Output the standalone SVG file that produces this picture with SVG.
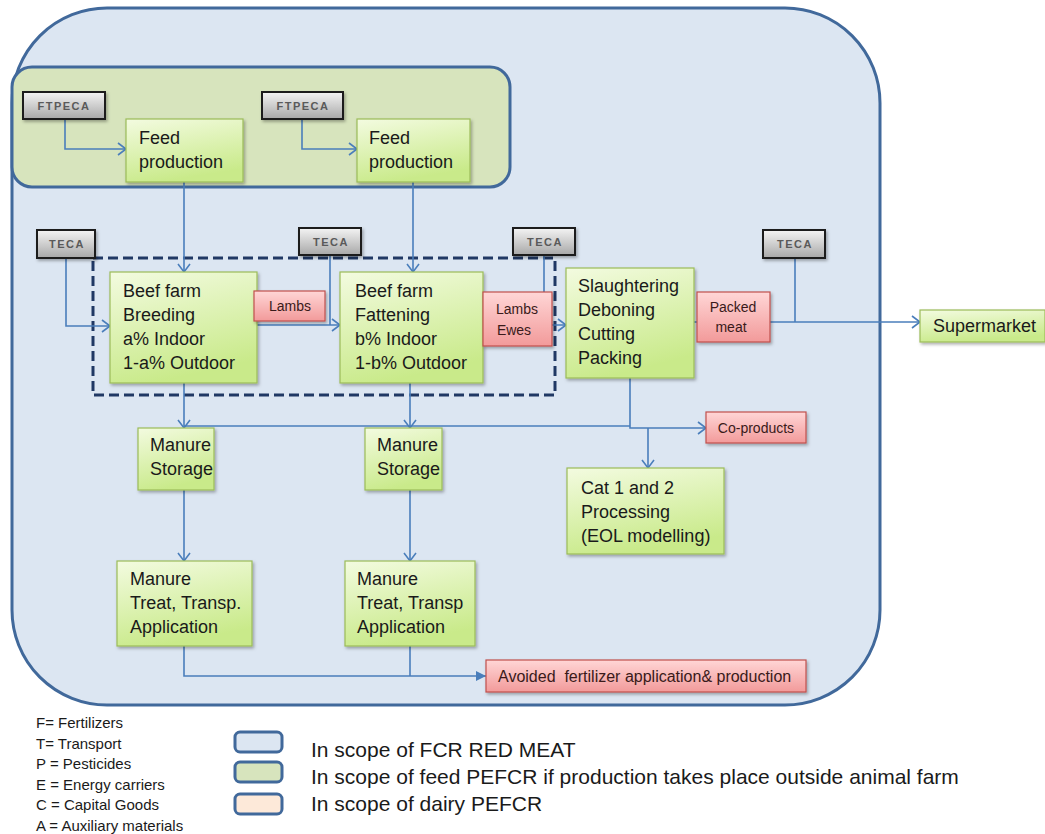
<svg xmlns="http://www.w3.org/2000/svg" width="1045" height="834" viewBox="0 0 1045 834">
  <defs>
    <linearGradient id="gGreen" x1="0" y1="0" x2="0.3" y2="1">
      <stop offset="0" stop-color="#f3fbe0"/>
      <stop offset="1" stop-color="#c9ea8a"/>
    </linearGradient>
    <linearGradient id="gRed" x1="0" y1="0" x2="0" y2="1">
      <stop offset="0" stop-color="#ffd6d6"/>
      <stop offset="1" stop-color="#f29a9a"/>
    </linearGradient>
    <linearGradient id="gGray" x1="0" y1="0" x2="0" y2="1">
      <stop offset="0" stop-color="#f4f4f4"/>
      <stop offset="1" stop-color="#a8a8a8"/>
    </linearGradient>
    <filter id="shadow" x="-10%" y="-10%" width="125%" height="130%">
      <feDropShadow dx="1.5" dy="2" stdDeviation="1.5" flood-color="#000" flood-opacity="0.3"/>
    </filter>
    <marker id="arrow" markerUnits="userSpaceOnUse" markerWidth="12" markerHeight="14" refX="9" refY="7" orient="auto">
      <path d="M1,1 L9,7 L1,13" fill="none" stroke="#4a7ebb" stroke-width="1.6"/>
    </marker>
    <marker id="arrowFill" markerUnits="userSpaceOnUse" markerWidth="12" markerHeight="12" refX="10" refY="6" orient="auto">
      <path d="M0,1 L10,6 L0,11 Z" fill="#4a7ebb"/>
    </marker>
  </defs>
  <style>
    .scope { stroke: #41699b; stroke-width: 3; }
    .proc { fill: url(#gGreen); stroke: #9bbb59; stroke-width: 1.2; filter: url(#shadow); }
    .flow { fill: url(#gRed); stroke: #c0504d; stroke-width: 1.2; filter: url(#shadow); }
    .input { fill: url(#gGray); stroke: #1a1a1a; stroke-width: 2; filter: url(#shadow); }
    .t { font-family: "Liberation Sans", Arial, sans-serif; font-size: 18px; fill: #1a1a1a; }
    .ts { font-family: "Liberation Sans", Arial, sans-serif; font-size: 14px; fill: #3a1a1a; }
    .tl { font-family: "Liberation Sans", Arial, sans-serif; font-size: 16px; fill: #3a1a1a; }
    .ti { font-family: "Liberation Sans", Arial, sans-serif; font-size: 11px; font-weight: bold; letter-spacing: 1.5px; fill: #5a5a5a; }
    .leg { font-family: "Liberation Sans", Arial, sans-serif; font-size: 15px; fill: #1a1a1a; }
    .legbig { font-family: "Liberation Sans", Arial, sans-serif; font-size: 21px; fill: #1a1a1a; }
    .line { fill: none; stroke: #4a7ebb; stroke-width: 1.6; }
  </style>

  <rect width="1045" height="834" fill="#ffffff"/>

  <!-- system boundaries -->
  <rect id="scope-redmeat" class="scope" x="12" y="8" width="868" height="697" rx="95" ry="95" fill="#dce6f2"/>
  <rect id="scope-feed" class="scope" x="12" y="67" width="498" height="120" rx="20" ry="20" fill="#d7e4bd"/>
  <rect id="farm-boundary" x="93" y="258" width="462" height="137" fill="none" stroke="#203864" stroke-width="3" stroke-dasharray="10,5"/>

  <!-- connectors -->
  <g id="connectors">
    <path class="line" d="M65,119 V149 H126" marker-end="url(#arrow)"/>
    <path class="line" d="M302,119 V149 H357" marker-end="url(#arrow)"/>
    <path class="line" d="M184,182 V272" marker-end="url(#arrow)"/>
    <path class="line" d="M413,182 V272" marker-end="url(#arrow)"/>
    <path class="line" d="M66,258 V326 H110" marker-end="url(#arrow)"/>
    <path class="line" d="M257,325 H340" marker-end="url(#arrow)"/>
    <path class="line" d="M330,255 V325"/>
    <path class="line" d="M483,325 H566" marker-end="url(#arrow)"/>
    <path class="line" d="M544,255 V325"/>
    <path class="line" d="M694,322 H920" marker-end="url(#arrow)"/>
    <path class="line" d="M795,258 V322"/>
    <path class="line" d="M184,383 V428" marker-end="url(#arrow)"/>
    <path class="line" d="M410,383 V428" marker-end="url(#arrow)"/>
    <path class="line" d="M184,426 H630"/>
    <path class="line" d="M630,378 V428 H706" marker-end="url(#arrow)"/>
    <path class="line" d="M648,428 V468" marker-end="url(#arrow)"/>
    <path class="line" d="M184,490 V561" marker-end="url(#arrow)"/>
    <path class="line" d="M410,490 V561" marker-end="url(#arrow)"/>
    <path class="line" d="M184,646 V676 H486" marker-end="url(#arrowFill)"/>
    <path class="line" d="M410,646 V676"/>
  </g>

  <!-- inputs -->
  <g id="ftpeca-1"><rect class="input" x="23" y="92" width="82" height="27"/><text class="ti" x="64" y="110" text-anchor="middle">FTPECA</text></g>
  <g id="ftpeca-2"><rect class="input" x="262" y="92" width="81" height="27"/><text class="ti" x="303" y="110" text-anchor="middle">FTPECA</text></g>
  <g id="teca-1"><rect class="input" x="37" y="230" width="58" height="28"/><text class="ti" x="67" y="248" text-anchor="middle">TECA</text></g>
  <g id="teca-2"><rect class="input" x="299" y="228" width="62" height="27"/><text class="ti" x="331" y="246" text-anchor="middle">TECA</text></g>
  <g id="teca-3"><rect class="input" x="513" y="228" width="62" height="27"/><text class="ti" x="545" y="246" text-anchor="middle">TECA</text></g>
  <g id="teca-4"><rect class="input" x="763" y="230" width="62" height="28"/><text class="ti" x="795" y="248" text-anchor="middle">TECA</text></g>

  <!-- processes -->
  <g id="feed-1"><rect class="proc" x="126" y="119" width="117" height="63"/>
    <text class="t" x="139" y="144">Feed</text><text class="t" x="139" y="168">production</text></g>
  <g id="feed-2"><rect class="proc" x="357" y="119" width="113" height="63"/>
    <text class="t" x="369" y="144">Feed</text><text class="t" x="369" y="168">production</text></g>

  <g id="beef-breeding"><rect class="proc" x="110" y="272" width="147" height="111"/>
    <text class="t" x="123" y="297">Beef farm</text><text class="t" x="123" y="321">Breeding</text>
    <text class="t" x="123" y="345">a% Indoor</text><text class="t" x="123" y="369">1-a% Outdoor</text></g>
  <g id="lambs"><rect class="flow" x="254" y="291" width="71" height="30"/>
    <text class="ts" x="290" y="311" text-anchor="middle">Lambs</text></g>

  <g id="beef-fattening"><rect class="proc" x="340" y="272" width="143" height="111"/>
    <text class="t" x="355" y="297">Beef farm</text><text class="t" x="355" y="321">Fattening</text>
    <text class="t" x="355" y="345">b% Indoor</text><text class="t" x="355" y="369">1-b% Outdoor</text></g>
  <g id="lambs-ewes"><rect class="flow" x="483" y="292" width="69" height="54"/>
    <text class="ts" x="517" y="314" text-anchor="middle">Lambs</text><text class="ts" x="514" y="335" text-anchor="middle">Ewes</text></g>

  <g id="slaughtering"><rect class="proc" x="566" y="268" width="128" height="110"/>
    <text class="t" x="578" y="292">Slaughtering</text><text class="t" x="578" y="316">Deboning</text>
    <text class="t" x="578" y="340">Cutting</text><text class="t" x="578" y="364">Packing</text></g>
  <g id="packed-meat"><rect class="flow" x="697" y="292" width="73" height="50"/>
    <text class="ts" x="733" y="312" text-anchor="middle">Packed</text><text class="ts" x="731" y="332" text-anchor="middle">meat</text></g>

  <g id="supermarket"><rect class="proc" x="920" y="310" width="125" height="32"/>
    <text class="t" x="933" y="332">Supermarket</text></g>

  <g id="coproducts"><rect class="flow" x="706" y="412" width="100" height="31"/>
    <text class="ts" x="756" y="433" text-anchor="middle">Co-products</text></g>

  <g id="cat-processing"><rect class="proc" x="567" y="468" width="157" height="86"/>
    <text class="t" x="581" y="494">Cat 1 and 2</text><text class="t" x="581" y="518">Processing</text>
    <text class="t" x="581" y="542">(EOL modelling)</text></g>

  <g id="manure-storage-1"><rect class="proc" x="138" y="428" width="76" height="62"/>
    <text class="t" x="150" y="451">Manure</text><text class="t" x="150" y="475">Storage</text></g>
  <g id="manure-storage-2"><rect class="proc" x="365" y="428" width="77" height="62"/>
    <text class="t" x="377" y="451">Manure</text><text class="t" x="377" y="475">Storage</text></g>

  <g id="manure-treat-1"><rect class="proc" x="117" y="561" width="135" height="85"/>
    <text class="t" x="130" y="585">Manure</text><text class="t" x="130" y="609">Treat, Transp.</text>
    <text class="t" x="130" y="633">Application</text></g>
  <g id="manure-treat-2"><rect class="proc" x="345" y="561" width="130" height="85"/>
    <text class="t" x="357" y="585">Manure</text><text class="t" x="357" y="609">Treat, Transp</text>
    <text class="t" x="357" y="633">Application</text></g>

  <g id="avoided-fertilizer"><rect class="flow" x="486" y="660" width="320" height="32"/>
    <text class="tl" x="498" y="682" xml:space="preserve">Avoided  fertilizer application&amp; production</text></g>

  <!-- abbreviations -->
  <g id="abbreviations">
    <text class="leg" x="36" y="728">F= Fertilizers</text>
    <text class="leg" x="36" y="749">T=  Transport</text>
    <text class="leg" x="36" y="769">P = Pesticides</text>
    <text class="leg" x="36" y="790">E = Energy carriers</text>
    <text class="leg" x="36" y="810">C = Capital Goods</text>
    <text class="leg" x="36" y="831">A = Auxiliary materials</text>
  </g>

  <!-- scope legend -->
  <g id="legend">
    <rect x="235" y="732" width="47" height="20" rx="5" fill="#dce6f2" stroke="#41699b" stroke-width="3"/>
    <rect x="235" y="762" width="47" height="20" rx="5" fill="#d7e4bd" stroke="#41699b" stroke-width="3"/>
    <rect x="235" y="794" width="47" height="20" rx="5" fill="#fde9d9" stroke="#41699b" stroke-width="3"/>
    <text class="legbig" x="311" y="757">In scope of FCR RED MEAT</text>
    <text class="legbig" x="311" y="784">In scope of feed PEFCR if production takes place outside animal farm</text>
    <text class="legbig" x="311" y="811">In scope of dairy PEFCR</text>
  </g>
</svg>
